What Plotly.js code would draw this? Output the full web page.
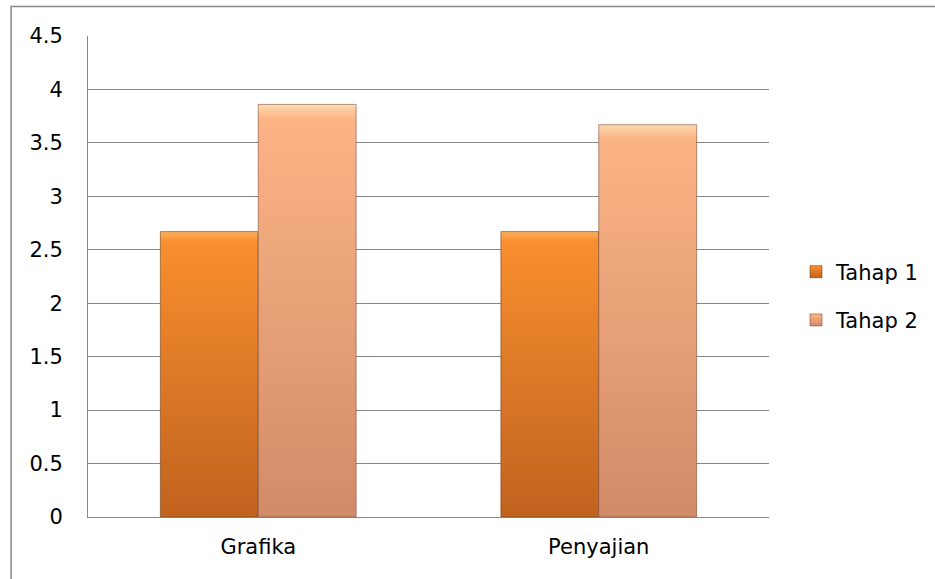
<!DOCTYPE html>
<html>
<head>
<meta charset="utf-8">
<script src="https://cdn.plot.ly/plotly-3.0.1.min.js"></script>
<style>
  html, body { margin: 0; padding: 0; background: #ffffff; }
  #chart { width: 935px; height: 579px; }
</style>
</head>
<body>
<div id="chart"></div>
<script>
const categories = ["Grafika", "Penyajian"];
const tahap1 = [2.67, 2.67];
const tahap2 = [3.86, 3.67];
const seriesNames = ["Tahap 1", "Tahap 2"];
const yTicks = [0, 0.5, 1, 1.5, 2, 2.5, 3, 3.5, 4, 4.5];

const FONT = "'DejaVu Sans', sans-serif";
const FS = 21;

const traces = [
  {
    type: "bar", name: seriesNames[0], x: categories, y: tahap1,
    legendgroup: "a",
    marker: { color: "#E2792A", line: { color: "rgba(110,55,15,0.55)", width: 1 } },
    hoverinfo: "none"
  },
  {
    type: "bar", name: seriesNames[1], x: categories, y: tahap2,
    legendgroup: "b",
    marker: { color: "#EDA47B", line: { color: "rgba(120,70,45,0.55)", width: 1 } },
    hoverinfo: "none"
  }
];

const W = 935, H = 579, L = 88, R = 770, T = 36, B = 517;
const pw = R - L, ph = B - T;

const layout = {
  width: W, height: H,
  margin: { l: L, r: W - R, t: T, b: H - B, pad: 0 },
  paper_bgcolor: "#ffffff",
  plot_bgcolor: "#ffffff",
  barmode: "group",
  bargap: 0.425,
  bargroupgap: 0,
  font: { family: FONT, size: FS, color: "#000000" },
  showlegend: true,
  legend: {
    x: (796 - L) / pw, y: (B - 296) / ph, xanchor: "left", yanchor: "middle",
    traceorder: "grouped", tracegroupgap: 18,
    font: { family: FONT, size: FS, color: "#000000" },
    bgcolor: "rgba(0,0,0,0)"
  },
  xaxis: {
    type: "category",
    showgrid: false, zeroline: false,
    showline: true, linecolor: "#868686", linewidth: 1,
    ticks: "", ticklabelstandoff: 11,
    tickfont: { family: FONT, size: FS, color: "#000000" }
  },
  yaxis: {
    range: [0, 4.5], tickmode: "array", tickvals: yTicks,
    ticktext: yTicks.map(v => String(v)),
    showgrid: true, gridcolor: "#868686", gridwidth: 1,
    zeroline: false, showline: true, linecolor: "#868686", linewidth: 1,
    ticks: "", ticklabelstandoff: 20,
    tickfont: { family: FONT, size: FS, color: "#000000" }
  },
  shapes: [
    {
      type: "rect", xref: "paper", yref: "paper", layer: "below",
      x0: (11 - L) / pw, x1: (960 - L) / pw,
      y0: (B - 600) / ph, y1: (B - 6.5) / ph,
      line: { color: "#868686", width: 1.5 }, fillcolor: "rgba(0,0,0,0)"
    }
  ]
};

function addGradients(gd) {
  const svg = gd.querySelector("svg.main-svg");
  if (!svg) return;
  const ns = "http://www.w3.org/2000/svg";
  let defs = svg.querySelector("defs");
  if (!defs) { defs = document.createElementNS(ns, "defs"); svg.insertBefore(defs, svg.firstChild); }
  const grads = [
    { id: "g1", stops: [[0, "#FBB05E"], [0.035, "#F88E2E"], [1, "#C0631F"]] },
    { id: "g2", stops: [[0, "#FEDAB0"], [0.035, "#FCB485"], [1, "#D28B68"]] }
  ];
  grads.forEach(g => {
    if (svg.querySelector("#" + g.id)) return;
    const lg = document.createElementNS(ns, "linearGradient");
    lg.setAttribute("id", g.id);
    lg.setAttribute("x1", "0"); lg.setAttribute("y1", "0");
    lg.setAttribute("x2", "0"); lg.setAttribute("y2", "1");
    g.stops.forEach(s => {
      const st = document.createElementNS(ns, "stop");
      st.setAttribute("offset", s[0]);
      st.setAttribute("stop-color", s[1]);
      lg.appendChild(st);
    });
    defs.appendChild(lg);
  });
  const barGroups = gd.querySelectorAll(".barlayer .trace.bars");
  barGroups.forEach((grp, i) => {
    grp.querySelectorAll("path").forEach(p => { p.style.fill = "url(#g" + (i + 1) + ")"; });
  });
  const legItems = gd.querySelectorAll(".legend .traces");
  legItems.forEach((it, i) => {
    it.querySelectorAll(".legendpoints path").forEach(p => { p.style.fill = "url(#g" + (i + 1) + ")"; });
  });
}

Plotly.newPlot("chart", traces, layout, { staticPlot: true, displayModeBar: false }).then(gd => {
  addGradients(gd);
});
</script>
</body>
</html>
